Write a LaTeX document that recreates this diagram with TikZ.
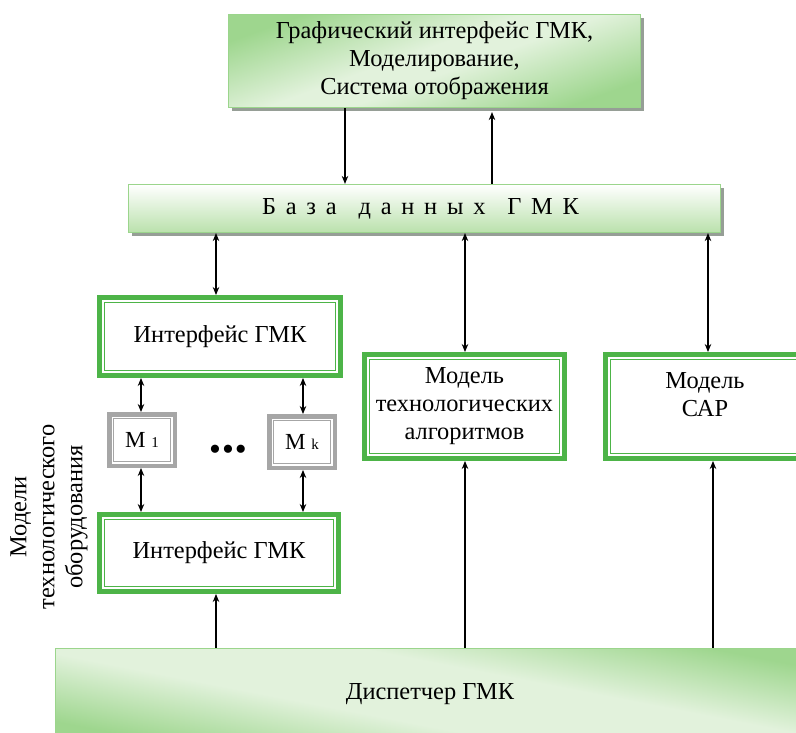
\documentclass[tikz,border=0pt]{standalone}
\usepackage{fontspec}
\setmainfont{Liberation Serif}
\usetikzlibrary{arrows.meta,shadows}
\definecolor{gthick}{RGB}{77,180,72}
\definecolor{gedge}{RGB}{155,213,140}
\definecolor{gdark}{RGB}{158,214,142}
\definecolor{glight}{RGB}{226,242,220}
\definecolor{gdbot}{RGB}{186,225,172}
\definecolor{mgray}{RGB}{166,166,166}
\definecolor{shgray}{RGB}{150,158,150}
\pgfdeclareverticalshading{dispsh}{100bp}{color(0bp)=(gdark); color(25bp)=(gdark); color(42bp)=(glight); color(58bp)=(glight); color(75bp)=(gdark); color(100bp)=(gdark)}
\pgfdeclareverticalshading{topsh}{100bp}{color(0bp)=(gdark); color(25bp)=(gdark); color(46bp)=(glight); color(54bp)=(glight); color(75bp)=(gdark); color(100bp)=(gdark)}
\newcommand\lsp{\hspace{9.8pt}}
\newcommand\wsp{\hspace{21.8pt}}
\tikzset{
  txt/.style={font=\fontsize{24.4}{28}\selectfont, align=center, text=black},
  dblbox/.style={txt, draw=gthick, line width=5pt, fill=white, inner sep=0pt,
    path picture={\draw[gthick, line width=1.3pt]
      ([shift={(4.9pt,-4.9pt)}]path picture bounding box.north west) rectangle
      ([shift={(-4.9pt,4.9pt)}]path picture bounding box.south east);}},
  graybox/.style={txt, draw=mgray, line width=4.5pt, fill=white, inner sep=0pt,
    path picture={\draw[mgray, line width=1.2pt]
      ([shift={(4.5pt,-4.5pt)}]path picture bounding box.north west) rectangle
      ([shift={(-4.5pt,4.5pt)}]path picture bounding box.south east);}},
  topbox/.style={txt, draw=gedge, line width=1.2pt,
    shading=topsh, shading angle=20,
    drop shadow={shadow xshift=3.5pt, shadow yshift=-3.5pt, fill=shgray, opacity=1}},
  dbbox/.style={txt, draw=gedge, line width=1.2pt, top color=white, bottom color=gdbot,
    drop shadow={shadow xshift=3.5pt, shadow yshift=-3.5pt, fill=shgray, opacity=1}},
  dispbox/.style={txt, draw=gedge, line width=1.2pt,
    shading=dispsh, shading angle=-11},
  arr/.style={-{Stealth[length=8pt,width=6.5pt]}, line width=1.1pt, black},
  darr/.style={{Stealth[length=8pt,width=6.5pt]}-{Stealth[length=8pt,width=6.5pt]}, line width=1.1pt, black},
}
\begin{document}
\begin{tikzpicture}[x=1pt,y=-1pt]
\useasboundingbox (0,0) rectangle (796,733);
% boxes
\node[topbox, minimum width=412pt, minimum height=93pt] (gui) at (434.5,61)
  {Графический интерфейс ГМК,\\Моделирование,\\Система отображения};
\node[dbbox, minimum width=592pt, minimum height=48pt] (db) at (424.5,208.5)
  {Б\lsp а\lsp з\lsp а\wsp д\lsp а\lsp н\lsp н\lsp ы\lsp х\wsp Г\lsp М\lsp К\hspace*{8pt}};
\node[dblbox, minimum width=241pt, minimum height=78pt] (int1) at (220,336.5) {Интерфейс ГМК};
\node[graybox, minimum width=65.5pt, minimum height=51.5pt, font=\fontsize{23}{28}\selectfont] (m1) at (142,440)
  {М {\fontsize{15}{15}\selectfont 1}};
\node[graybox, minimum width=65.5pt, minimum height=51.5pt, font=\fontsize{23}{28}\selectfont] (mk) at (302,442)
  {М {\fontsize{15}{15}\selectfont k}};
\node[txt, font=\fontsize{34}{34}\selectfont] (dots) at (228,453) {•\kern1pt•\kern1pt•};
\node[dblbox, minimum width=239pt, minimum height=77pt] (int2) at (219,553) {Интерфейс ГМК};
\node[dblbox, minimum width=200pt, minimum height=104pt] (mta) at (464.5,406.5)
  {Модель\\технологических\\алгоритмов};
\node[dblbox, minimum width=199pt, minimum height=104pt] (sar) at (705,406.5)
  {Модель\\САР\\[-12pt]\strut};
\node[dispbox, minimum width=749pt, minimum height=91pt] (disp) at (430,694)
  {Диспетчер ГМК};
\node[txt, rotate=90] (lbl) at (49,517) {Модели\\технологического\\оборудования};
% columns
\coordinate (xa) at (345,0);
\coordinate (xb) at (492,0);
\coordinate (xc) at (216,0);
\coordinate (xd) at (141,0);
\coordinate (xe) at (303,0);
\coordinate (xf) at (465,0);
\coordinate (xg) at (708,0);
\coordinate (xh) at (713,0);
% connectors
\draw[arr] (gui.south -| xa) -- (db.north -| xa);
\draw[arr, shorten >=4pt] (db.north -| xb) -- (gui.south -| xb);
\draw[darr] (db.south -| xc) -- (int1.north -| xc);
\draw[darr] (int1.south -| xd) -- (m1.north -| xd);
\draw[darr] (int1.south -| xe) -- (mk.north -| xe);
\draw[darr] (m1.south -| xd) -- (int2.north -| xd);
\draw[darr] (mk.south -| xe) -- (int2.north -| xe);
\draw[arr] (disp.north -| xc) -- (int2.south -| xc);
\draw[darr] (db.south -| xf) -- (mta.north -| xf);
\draw[darr] (db.south -| xg) -- (sar.north -| xg);
\draw[arr] (disp.north -| xf) -- (mta.south -| xf);
\draw[arr] (disp.north -| xh) -- (sar.south -| xh);
\end{tikzpicture}
\end{document}
